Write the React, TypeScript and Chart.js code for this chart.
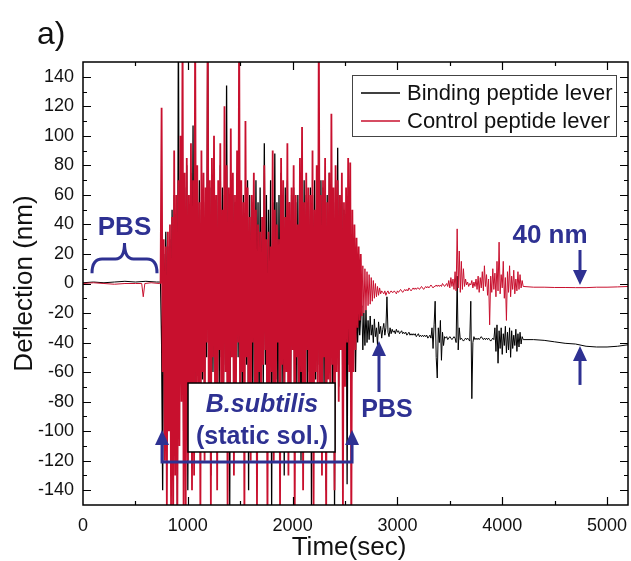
import React, { useEffect, useRef } from 'react';
import { Chart, registerables } from 'chart.js';

Chart.register(...registerables);

const FONT = "'Liberation Sans', Arial, Helvetica, sans-serif";
const BLUE = '#2e3192';
const RED = '#c8102e';
const BLACK = '#000000';

// ---- axis ticks ----
const xTickValues = [0, 1000, 2000, 3000, 4000, 5000];
const yTickValues = [-140, -120, -100, -80, -60, -40, -20, 0, 20, 40, 60, 80, 100, 120, 140];

// ---- phase 1: PBS baseline (time in sec, deflection in nm) ----
const quietTimesBlack = [0, 100, 200, 300, 400, 500, 600, 700, 730];
const quietBlack = [0.5, 1, 0.5, 1, 1.5, 1, 1.5, 1, 1];
const quietTimesRed = [0, 100, 200, 300, 400, 500, 560, 575, 590, 650, 730];
const quietRed = [0, 0.5, 0, -0.5, 0, 0, 0, -9, 0, 0.5, 0];

// ---- phase 2: B.subtilis static solution (sampled every 10 s from 740 s) ----
const burstStart = 740;
const burstStep = 10;
const burstBlack = [
  1, -40, -140, 20, -30, 35, -45, 25, -60, 30,
  -90, 50, -120, 60, -80, 40, -150, 180, -60, 70,
  -70, 55, -100, 65, -50, 80, -140, 45, -60, 75,
  -55, 107, -80, 45, -90, 60, -40, 70, -110, 50,
  -65, 55, -85, 60, -50, 180, -70, 65, -130, 50,
  -60, 75, -45, 55, -90, 60, -70, 80, -50, 65,
  -80, 60, -55, 134, -70, 50, -150, 70, -45, 60,
  -90, 55, -60, 75, -50, 65, -80, 50, -100, 60,
  -70, 45, -55, 70, -140, 60, -45, 55, -80, 50,
  -60, 70, -40, 55, -95, 65, -50, 45, -70, 95,
  -55, 60, -80, 50, -45, 70, -150, 55, -60, 88,
  -65, 55, -90, 60, -50, 75, -70, 50, -130, 65,
  -50, 70, -60, 55, -85, 60, -45, 65, -100, 55,
  -70, 60, -55, 75, -120, 50, -60, 70, -45, 60,
  -80, 55, -60, 65, -150, 60, -50, 70, -65, 55,
  -55, 60, -90, 70, -45, 65, -75, 55, -140, 60,
  -60, 75, -50, 65, -80, 55, -150, 70, -55, 92,
  -70, 60, -45, 55, -100, 50, -60, 45, -136, 40,
  -55, 15, -70, 5, -45, 0, -60, -10, -40, -15,
  -35, -20,
];
const burstRed = [
  0, 119, -60, 30, -120, 25, -150, 35, -100, 40,
  -150, 45, -170, 90, -130, 60, -160, 70, -110, 100,
  -80, 180, -160, 75, -150, 85, -120, 60, -90, 95,
  -140, 70, -130, 180, -70, 80, -100, 55, -160, 90,
  -60, 75, -120, 65, -40, 180, -90, 70, -150, 85,
  -50, 100, -80, 60, -140, 70, -45, 95, -110, 50,
  -70, 120, -60, 80, -160, 65, -90, 105, -50, 75,
  -130, 60, -70, 90, -40, 180, -100, 70, -60, 55,
  -160, 110, -50, 65, -90, 45, -120, 60, -40, 75,
  -70, 50, -150, 40, -60, 35, -100, 45, -55, 80,
  -45, 30, -160, 35, -80, 25, -60, 90, -120, 50,
  -70, 40, -40, 30, -150, 85, -55, 70, -90, 45,
  -60, 95, -130, 55, -75, 65, -45, 80, -160, 60,
  -50, 40, -100, 85, -60, 106, -140, 55, -80, 75,
  -45, 65, -110, 60, -70, 90, -155, 50, -60, 80,
  -90, 180, -70, 60, -130, 70, -50, 85, -160, 55,
  -65, 75, -100, 115, -55, 65, -140, 80, -60, 70,
  -80, 60, -45, 75, -150, 55, -70, 65, -40, 85,
  -60, 82, -170, 50, -60, 40, -45, 31, -30, 25,
  -25, 20,
];

// ---- phase 3: PBS rinse (sampled every 10 s from 2660 s) ----
const recoveryStart = 2660;
const recoveryStep = 10;
const recoveryBlack = [
  -15, -45, -20, -42, -18, -40, -25, -38, -22, -35,
  -28, -40, -24, -36, -30, -42, -26, -34, -29, -37,
  -31, -27, -35, -30, -9, -33, -36, -30, -34, -31,
  -33, -32, -34, -31, -33, -32, -34, -33, -32, -34,
  -33, -34, -33, -35, -34, -33, -35, -34, -35, -34,
  -35, -34, -36, -35, -34, -36, -35, -36, -35, -36,
  -35, -36, -35, -37, -36, -35, -37, -30, -44, -28,
  -12, -50, -64, -30, -40, -25, -52, -33, -42, -36,
  -37, -36, -38, -37, -36, -37, -38, -37, -36, -37,
  -40, 5, -45, -30, -38, -37, -38, -39, -38, -37,
  -38, -37, -38, -39, -12, -78, -40, -36, -38, -37,
  -38, -37, -38, -37, -36, -37, -38, -37, -38, -37,
  -38, -37, -38, -39, -38, -37, -38, -30, -46, -28,
  -54, -32, -44, -30, -48, -34, -42, -29, -47, -33,
  -45, -30, -50, -32, -44, -35, -42, -31, -46, -34,
  -43, -33, -41, -36, -38,
];
const recoveryRed = [
  -22, 12, -20, 10, -18, 8, -15, 6, -14, 4,
  -12, 2, -10, 0, -9, -2, -8, -3, -7, -5,
  -6, -7, -5, -8, -6, -5, -7, -6, -5, -6,
  -6, -5, -6, -7, -5, -6, -5, -4, -5, -6,
  -5, -4, -5, -4, -5, -3, -4, -5, -4, -3,
  -4, -3, -4, -3, -3, -4, -3, -2, -3, -4,
  -3, -2, -3, -2, -3, -2, -1, -2, -3, -2,
  -2, -1, -2, -1, -2, -1, -2, 0, -1, -2,
  -1, 0, -2, 2, -3, 4, -2, 3, -4, 8,
  -5, 37, -3, 22, -6, 15, -4, 10, -2, 3,
  -1, 1, -2, 0, -1, 2, -3, 1, -2, 3,
  -4, 5, -6, 4, -3, 8, -5, 12, -2, 6,
  -8, 3, -28, 5, -6, 10, -4, 7, -9, 15,
  -5, 28, -7, 6, -3, 15, -10, 4, -25, 8,
  -6, 12, -9, 5, -4, 9, -7, 3, -5, 8,
  -4, 6, -3, 2, -2,
];

// ---- phase 4: settled ----
const settleTimes = [4300, 4400, 4500, 4600, 4700, 4800, 4900, 5000, 5100, 5200];
const settleBlack = [-38, -38.5, -39.5, -40.5, -41, -42.5, -43, -43, -42.5, -41.5];
const settleRed = [-2.5, -2.5, -2.7, -2.7, -2.8, -2.8, -2.5, -2.5, -2.3, -2.0];

const legendLabels = ['Binding peptide lever', 'Control peptide lever'];

type P = { x: number; y: number };
const pairs = (ts: number[], vs: number[]): P[] => vs.map((v, i) => ({ x: ts[i], y: v }));
const grid = (start: number, step: number, vs: number[]): P[] => vs.map((v, i) => ({ x: start + i * step, y: v }));

const blackData: P[] = [
  ...pairs(quietTimesBlack, quietBlack),
  ...grid(burstStart, burstStep, burstBlack),
  ...grid(recoveryStart, recoveryStep, recoveryBlack),
  ...pairs(settleTimes, settleBlack),
];
const redData: P[] = [
  ...pairs(quietTimesRed, quietRed),
  ...grid(burstStart, burstStep, burstRed),
  ...grid(recoveryStart, recoveryStep, recoveryRed),
  ...pairs(settleTimes, settleRed),
];

const burstEnd = recoveryStart;

function arrowHead(ctx: CanvasRenderingContext2D, x: number, tipY: number, dir: number) {
  const len = 15;
  const hw = 7;
  ctx.beginPath();
  ctx.moveTo(x, tipY);
  ctx.lineTo(x - hw, tipY - dir * len);
  ctx.lineTo(x + hw, tipY - dir * len);
  ctx.closePath();
  ctx.fill();
}

function vArrow(ctx: CanvasRenderingContext2D, x: number, tailY: number, tipY: number) {
  const dir = tipY > tailY ? 1 : -1;
  ctx.beginPath();
  ctx.moveTo(x, tailY);
  ctx.lineTo(x, tipY - dir * 12);
  ctx.stroke();
  arrowHead(ctx, x, tipY, dir);
}

const framePlugin = {
  id: 'frameAndNotes',
  afterDraw(chart: any) {
    const { ctx, chartArea } = chart;
    const { left, right, top, bottom } = chartArea;
    const xs = chart.scales.x;
    const ys = chart.scales.y;
    const X = (t: number) => xs.getPixelForValue(t);
    const Y = (v: number) => ys.getPixelForValue(v);
    ctx.save();

    // frame
    ctx.strokeStyle = '#000';
    ctx.lineWidth = 1.5;
    ctx.strokeRect(left, top, right - left, bottom - top);
    ctx.lineWidth = 1.2;
    ctx.beginPath();
    for (let v = -140; v <= 140; v += 10) {
      const len = v % 20 === 0 ? 8 : 4;
      const py = Math.round(Y(v)) + 0.5;
      ctx.moveTo(left, py); ctx.lineTo(left + len, py);
      ctx.moveTo(right, py); ctx.lineTo(right - len, py);
    }
    for (let t = 500; t <= 5000; t += 500) {
      const len = t % 1000 === 0 ? 8 : 4;
      const px = Math.round(X(t)) + 0.5;
      ctx.moveTo(px, bottom); ctx.lineTo(px, bottom - len);
      ctx.moveTo(px, top); ctx.lineTo(px, top + len);
    }
    ctx.stroke();

    // panel label and axis titles
    ctx.fillStyle = '#111';
    ctx.textAlign = 'left';
    ctx.textBaseline = 'alphabetic';
    ctx.font = `32px ${FONT}`;
    ctx.fillText('a)', 37, 44);

    ctx.font = `26px ${FONT}`;
    ctx.textAlign = 'center';
    ctx.fillText('Time(sec)', 349, 555);
    ctx.save();
    ctx.translate(32, (top + bottom) / 2);
    ctx.rotate(-Math.PI / 2);
    ctx.fillText('Deflection (nm)', 0, 0);
    ctx.restore();

    // legend
    ctx.fillStyle = '#fff';
    ctx.fillRect(352, 75, 264, 61);
    ctx.strokeStyle = '#444';
    ctx.lineWidth = 1;
    ctx.strokeRect(352.5, 75.5, 264, 61);
    const rows = [{ c: BLACK, y: 93 }, { c: RED, y: 121 }];
    rows.forEach((r, i) => {
      ctx.strokeStyle = r.c;
      ctx.lineWidth = 1.5;
      ctx.beginPath();
      ctx.moveTo(361, r.y); ctx.lineTo(400, r.y);
      ctx.stroke();
      ctx.fillStyle = '#111';
      ctx.font = `22px ${FONT}`;
      ctx.textAlign = 'left';
      ctx.textBaseline = 'middle';
      ctx.fillText(legendLabels[i], 407, r.y + 1);
    });

    // blue annotations
    ctx.fillStyle = BLUE;
    ctx.strokeStyle = BLUE;
    ctx.lineWidth = 3;
    ctx.lineCap = 'butt';
    ctx.textAlign = 'center';
    ctx.textBaseline = 'middle';

    // PBS brace
    ctx.font = `bold 26px ${FONT}`;
    ctx.fillText('PBS', X(396), Y(37.9));
    {
      const x0 = X(86), x1 = X(706), xm = X(396);
      const yEnd = Y(7), yBar = Y(16.6), yPeak = Y(27.4);
      ctx.beginPath();
      ctx.moveTo(x0, yEnd);
      ctx.quadraticCurveTo(x0, yBar, x0 + 10, yBar);
      ctx.lineTo(xm - 9, yBar);
      ctx.quadraticCurveTo(xm, yBar, xm, yPeak);
      ctx.quadraticCurveTo(xm, yBar, xm + 9, yBar);
      ctx.lineTo(x1 - 10, yBar);
      ctx.quadraticCurveTo(x1, yBar, x1, yEnd);
      ctx.stroke();
    }

    // 40 nm marker
    ctx.font = `bold 26px ${FONT}`;
    ctx.fillText('40 nm', X(4456), Y(32.2));
    vArrow(ctx, X(4742), Y(22.7), Y(-1.0));
    vArrow(ctx, X(4742), Y(-68.7), Y(-42.3));

    // PBS rinse arrow
    vArrow(ctx, X(2824), Y(-73.5), Y(-39));
    ctx.font = `bold 25px ${FONT}`;
    ctx.fillText('PBS', X(2901), Y(-86));

    // B.subtilis box
    {
      const bx0 = X(1002), bx1 = X(2405), by0 = Y(-67.4), by1 = Y(-114.1);
      ctx.fillStyle = '#fff';
      ctx.fillRect(bx0, by0, bx1 - bx0, by1 - by0);
      ctx.strokeStyle = '#000';
      ctx.lineWidth = 1.5;
      ctx.strokeRect(bx0, by0, bx1 - bx0, by1 - by0);
      ctx.fillStyle = BLUE;
      ctx.font = `italic bold 25px ${FONT}`;
      ctx.fillText('B.subtilis', X(1708), Y(-82.3));
      ctx.font = `bold 25px ${FONT}`;
      ctx.fillText('(static sol.)', X(1708), Y(-103.9));
    }

    // bracket with two up arrows
    {
      ctx.strokeStyle = BLUE;
      ctx.fillStyle = BLUE;
      ctx.lineWidth = 3;
      const xa = X(754), xb = X(2567), yb = Y(-120.9), yt = Y(-99.2);
      ctx.beginPath();
      ctx.moveTo(xa, yt + 12);
      ctx.lineTo(xa, yb);
      ctx.lineTo(xb, yb);
      ctx.lineTo(xb, yt + 12);
      ctx.stroke();
      arrowHead(ctx, xa, yt, -1);
      arrowHead(ctx, xb, yt, -1);
    }

    ctx.restore();
  },
};

const inBurst = (c: any) => c.p0.parsed.x >= burstStart && c.p1.parsed.x <= burstEnd;

export default function App() {
  const ref = useRef<HTMLCanvasElement>(null);
  useEffect(() => {
    document.body.style.margin = '0';
    const canvas = ref.current!;
    const chart = new Chart(canvas, {
      type: 'line',
      data: {
        datasets: [
          {
            label: legendLabels[0],
            data: blackData,
            borderColor: BLACK,
            borderWidth: 1,
            pointRadius: 0,
            tension: 0,
            clip: 0,
            order: 2,
            segment: { borderWidth: (c: any) => (inBurst(c) ? 1.3 : 1) },
          },
          {
            label: legendLabels[1],
            data: redData,
            borderColor: RED,
            borderWidth: 1,
            pointRadius: 0,
            tension: 0,
            clip: 0,
            order: 1,
            segment: { borderWidth: (c: any) => (inBurst(c) ? 1.8 : 1) },
          },
        ],
      },
      options: {
        responsive: false,
        animation: false,
        devicePixelRatio: 1,
        layout: { padding: { left: 0, right: 3, top: 62, bottom: 0 } },
        plugins: { legend: { display: false }, tooltip: { enabled: false } },
        scales: {
          x: {
            type: 'linear',
            min: 0,
            max: 5200,
            grid: { display: false, drawTicks: false },
            border: { display: false },
            ticks: {
              font: { family: FONT, size: 18 },
              color: '#111',
              padding: 10,
              maxRotation: 0,
              autoSkip: false,
              callback: (v: any) => String(v),
            },
            afterBuildTicks: (s: any) => {
              s.ticks = xTickValues.map((v) => ({ value: v }));
            },
            afterFit: (s: any) => {
              s.height = 56;
              s.paddingLeft = 0;
              s.paddingRight = 0;
            },
          },
          y: {
            type: 'linear',
            min: -150,
            max: 150,
            grid: { display: false, drawTicks: false },
            border: { display: false },
            ticks: {
              font: { family: FONT, size: 18 },
              color: '#111',
              padding: 9,
              autoSkip: false,
              callback: (v: any) => String(v),
            },
            afterBuildTicks: (s: any) => {
              s.ticks = yTickValues.map((v) => ({ value: v }));
            },
            afterFit: (s: any) => {
              s.width = 83;
              s.paddingTop = 0;
              s.paddingBottom = 0;
            },
          },
        },
      },
      plugins: [framePlugin],
    } as any);
    return () => chart.destroy();
  }, []);
  return (
    <div style={{ width: 631, height: 561 }}>
      <canvas ref={ref} width={631} height={561} style={{ display: 'block' }} />
    </div>
  );
}
